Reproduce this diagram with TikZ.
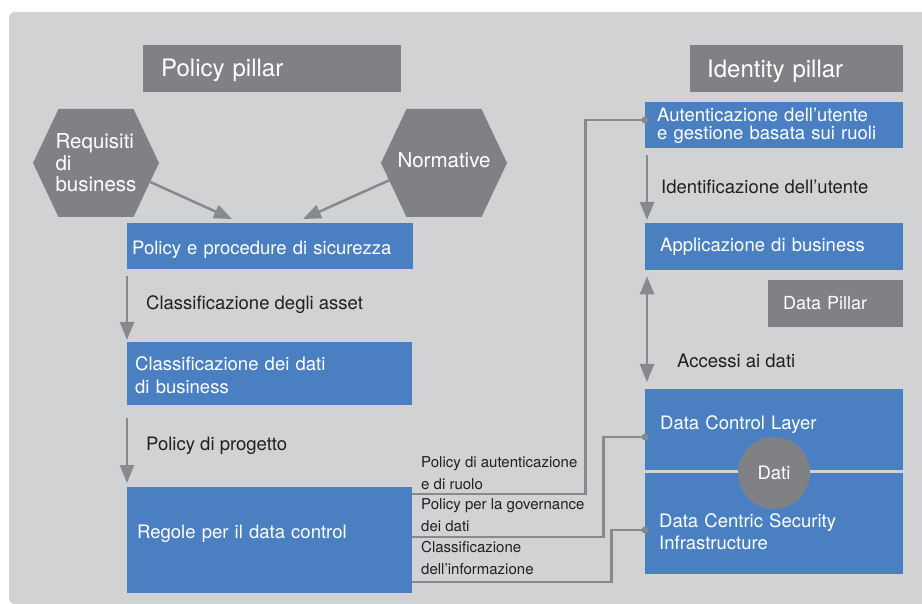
\documentclass[tikz,border=0pt]{standalone}
\usepackage{fontspec}
\setmainfont{TeX Gyre Heros}
\usepackage{xcolor}
\usetikzlibrary{arrows.meta}

\definecolor{pagebg}{HTML}{D1D2D4}
\definecolor{boxblue}{HTML}{4A80C2}
\definecolor{pillargray}{HTML}{808184}
\definecolor{linegray}{HTML}{88898C}
\definecolor{inktext}{HTML}{231F20}

\begin{document}
\begin{tikzpicture}[x=1pt,y=-1pt,
    bluebox/.style={fill=boxblue,text=white,anchor=north west,inner ysep=0pt,align=left,font=\fontsize{18.5}{23}\selectfont},
    pillarbox/.style={fill=pillargray,text=white,anchor=north west,inner ysep=0pt,align=left},
    hexa/.style={fill=pagebg,minimum width=126pt,minimum height=108pt,inner sep=0pt,text=white,align=left,font=\fontsize{20.5}{21.5}\selectfont,
      path picture={\fill[pillargray] (path picture bounding box.west) -- ([xshift=-37.5pt]path picture bounding box.north) -- ([xshift=37.5pt]path picture bounding box.north) -- (path picture bounding box.east) -- ([xshift=37.5pt]path picture bounding box.south) -- ([xshift=-37.5pt]path picture bounding box.south) -- cycle;}},
    steplbl/.style={text=inktext,anchor=base west,inner sep=0pt,font=\fontsize{18.5}{22}\selectfont},
    note/.style={text=inktext,anchor=base west,inner sep=0pt,align=left,font=\fontsize{15}{21.5}\selectfont},
    arr/.style={draw=linegray,line width=2.5pt,-{Triangle[length=18pt,width=14pt]}},
    arrboth/.style={draw=linegray,line width=2.5pt,{Triangle[length=18pt,width=14pt]}-{Triangle[length=18pt,width=14pt]}},
    link/.style={draw=linegray,line width=2.2pt},
    dot/.style={circle,fill=linegray,minimum size=7pt,inner sep=0pt}]
    \useasboundingbox (0,0) rectangle (922,604);
    \fill[pagebg] (922,604) [rounded corners=6pt] -- (9,604) -- (9,12) [sharp corners] -- (922,12) -- cycle;

    % pillars
    \node[pillarbox,inner xsep=18pt,text width=222pt,text height=31pt,text depth=16pt,font=\fontsize{24}{28}\selectfont] (polpil) at (143,45) {Policy pillar};
    \node[pillarbox,inner xsep=17pt,text width=179pt,text height=32pt,text depth=15pt,font=\fontsize{24}{28}\selectfont] (idpil) at (690,45) {Identity pillar};
    \node[pillarbox,inner xsep=15pt,text width=105pt,text height=29pt,text depth=18pt,font=\fontsize{18}{22}\selectfont] (datapil) at (768,280) {Data Pillar};

    % policy column
    \node[hexa] (req) at (96,163) {Requisiti\\di\\business};
    \node[hexa,text depth=6pt] (norm) at (444,163) {Normative};
    \node[bluebox,inner xsep=5pt,text width=276pt,text height=31pt,text depth=15pt] (polproc) at (127,223) {Policy e procedure di sicurezza};
    \node[bluebox,inner xsep=8pt,text width=269pt,text height=28pt,text depth=35pt] (clsdati) at (127,342) {Classificazione dei dati\\di business};
    \node[bluebox,inner xsep=10pt,text width=265pt,text height=51pt,text depth=55pt] (regole) at (127,487) {Regole per il data control};

    % identity and data column
    \node[bluebox,inner xsep=12pt,text width=234pt,text height=19pt,text depth=27pt,font=\fontsize{18.5}{18}\selectfont] (autent) at (645,102) {Autenticazione dell'utente\\e gestione basata sui ruoli};
    \node[bluebox,inner xsep=15pt,text width=228pt,text height=28pt,text depth=19pt] (applic) at (645,223) {Applicazione di business};
    \node[bluebox,inner xsep=15pt,text width=228pt,text height=40pt,text depth=41pt] (dctrl) at (645,389) {Data Control Layer};
    \node[bluebox,inner xsep=14pt,text width=230pt,text height=54pt,text depth=47pt,font=\fontsize{18.5}{22}\selectfont] (dcsi) at (645,473) {Data Centric Security\\Infrastructure};
    \node[circle,fill=pillargray,text=white,minimum size=72pt,inner sep=0pt,font=\fontsize{18.5}{22}\selectfont] (dati) at (774,473) {Dati};

    % labels
    \node[steplbl] (lasset) at (146,310) {Classificazione degli asset};
    \node[steplbl] (lprog) at (146,450) {Policy di progetto};
    \node[steplbl] (lident) at (661,194) {Identificazione dell'utente};
    \node[steplbl] (laccess) at (677,367) {Accessi ai dati};
    \node[note] (nauth) at (421,489) {Policy di autenticazione\\e di ruolo};
    \node[note] (ngov) at (421,531) {Policy per la governance\\dei dati};
    \node[note] (ncls) at (421,574) {Classificazione\\dell'informazione};

    % arrows
    \draw[arr] ([xshift=-9pt,yshift=-19pt]req.east) -- ([xshift=105pt,yshift=4pt]polproc.north west);
    \draw[arr] ([xshift=9pt,yshift=-17pt]norm.west) -- ([xshift=176pt,yshift=4pt]polproc.north west);
    \draw[arr] ([yshift=-7pt]polproc.south west) -- ([yshift=2pt]clsdati.north west);
    \draw[arr] ([yshift=-13pt]clsdati.south west) -- ([yshift=4pt]regole.north west);
    \draw[arr] ([xshift=2pt,yshift=-7pt]autent.south west) -- ([xshift=2pt,yshift=3pt]applic.north west);
    \draw[arrboth] ([xshift=2pt,yshift=-6pt]applic.south west) -- ([xshift=2pt,yshift=7pt]dctrl.north west);

    % policy links
    \draw[link] ([yshift=-7pt]regole.north east) -- ++(173,0) |- ([yshift=-18pt]autent.north west) node[dot] (dauth) {};
    \draw[link] ([yshift=-50pt]regole.north east) -- ++(191,0) |- ([yshift=-48pt]dctrl.north west) node[dot] (dctl) {};
    \draw[link] ([yshift=-95pt]regole.north east) -- ++(199,0) |- ([yshift=-57pt]dcsi.north west) node[dot] (dcs) {};
\end{tikzpicture}
\end{document}
